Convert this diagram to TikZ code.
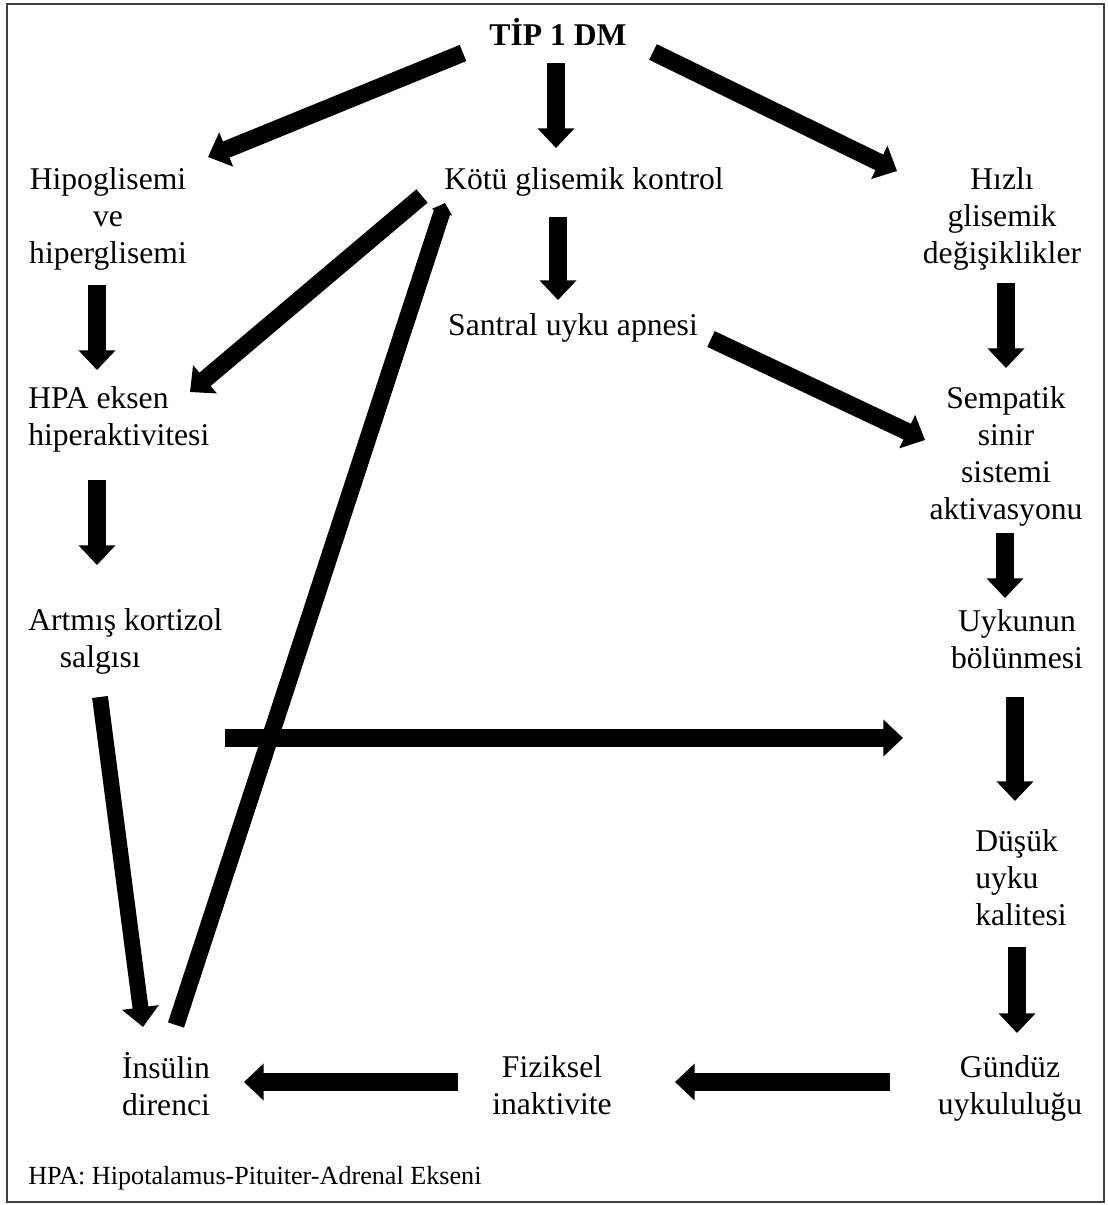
\documentclass[tikz,border=0pt]{standalone}
\usepackage{fontspec}
\setmainfont{Liberation Serif}
\usetikzlibrary{arrows.meta,positioning}

\begin{document}
\begin{tikzpicture}[x=0.025cm,y=-0.025cm,
  lbl/.style={inner sep=0pt, align=center, font=\fontsize{22.5}{26.4}\selectfont},
  bigarrow/.style={line width=12.4pt, -{Triangle[length=14pt,width=25.5pt]}}]
\useasboundingbox (0,0) rectangle (1107,1205);
\draw[line width=1.4pt, black!75] (7,4) rectangle (1104,1202);

% basliklar
\node[lbl, anchor=north, font=\fontsize{22.5}{26.4}\selectfont\bfseries] (tip) at (558,18) {TİP 1 DM};
\node[lbl, anchor=north] (hipo) at (108,167) {Hipoglisemi\\ve\\hiperglisemi};
\node[lbl, anchor=north] (kotu) at (584,167) {Kötü glisemik kontrol};
\node[lbl, anchor=north] (hizli) at (1002,167) {Hızlı\\glisemik\\değişiklikler};
\node[lbl, anchor=north] (santral) at (573,313) {Santral uyku apnesi};
\node[lbl, anchor=north west, align=left] (hpa) at (28,386) {HPA eksen\\hiperaktivitesi};
\node[lbl, anchor=north] (sempatik) at (1006,386) {Sempatik\\sinir\\sistemi\\aktivasyonu};
\node[lbl, anchor=north west, align=left] (artmis) at (28,608) {Artmış kortizol\\\hspace*{1em}salgısı};
\node[lbl, anchor=north] (uykunun) at (1017,609) {Uykunun\\bölünmesi};
\node[lbl, anchor=north west, align=left] (dusuk) at (975,829) {Düşük\\uyku\\kalitesi};
\node[lbl, anchor=north] (insulin) at (166,1052) {İnsülin\\direnci};
\node[lbl, anchor=north] (fiziksel) at (552,1055) {Fiziksel\\inaktivite};
\node[lbl, anchor=north] (gunduz) at (1010,1055) {Gündüz\\uykululuğu};
\node[inner sep=0pt, anchor=north west, font=\fontsize{18.6}{22}\selectfont] (kisaltma) at (28,1166) {HPA: Hipotalamus-Pituiter-Adrenal Ekseni};
\coordinate (solUc) at (225,738);

% oklar
\draw[bigarrow] ([shift={(-95,35)}]tip.north) -- ([shift={(100,-10)}]hipo.north);
\draw[bigarrow] ([shift={(-2,45)}]tip.north) -- ([shift={(-28,-19)}]kotu.north);
\draw[bigarrow] ([shift={(95,34)}]tip.north) -- ([shift={(-105,4)}]hizli.north);
\draw[bigarrow] ([shift={(-26,50)}]kotu.north) -- ([shift={(-15,-13)}]santral.north);
\draw[bigarrow] ([shift={(-11,118)}]hipo.north) -- ([shift={(69,-16)}]hpa.north west);
\draw[bigarrow] ([shift={(4,116)}]hizli.north) -- ([shift={(0,-18)}]sempatik.north);
\draw[bigarrow] ([shift={(-162,29)}]kotu.north) -- ([shift={(162,6)}]hpa.north west);
\draw[line width=12pt, -{Triangle[length=7pt,width=15pt]}] ([shift={(10,-27)}]insulin.north) -- ([shift={(-139,36)}]kotu.north);
\draw[bigarrow] ([shift={(138,26)}]santral.north) -- ([shift={(-81,54)}]sempatik.north);
\draw[bigarrow] ([shift={(69,94)}]hpa.north west) -- ([shift={(69,-43)}]artmis.north west);
\draw[bigarrow] ([shift={(-1,147)}]sempatik.north) -- ([shift={(-12,-11)}]uykunun.north);
\draw[bigarrow] (solUc) -- ([shift={(-114,129)}]uykunun.north);
\draw[bigarrow] ([shift={(-2,88)}]uykunun.north) -- ([shift={(40,-28)}]dusuk.north west);
\draw[bigarrow, line width=11.3pt] ([shift={(72,89)}]artmis.north west) -- ([shift={(-23,-25)}]insulin.north);
\draw[bigarrow] ([shift={(42,118)}]dusuk.north west) -- ([shift={(7,-22)}]gunduz.north);
\draw[bigarrow] ([shift={(-120,27)}]gunduz.north) -- ([shift={(123,27)}]fiziksel.north);
\draw[bigarrow] ([shift={(-94,27)}]fiziksel.north) -- ([shift={(78,30)}]insulin.north);
\end{tikzpicture}
\end{document}
